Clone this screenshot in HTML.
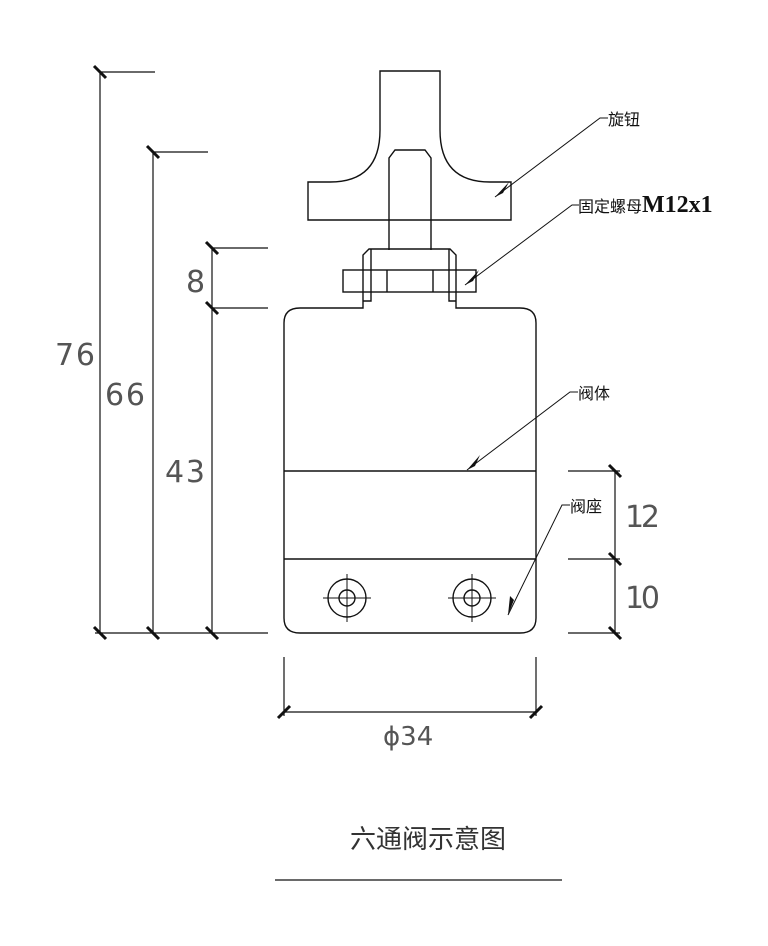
<!DOCTYPE html>
<html><head><meta charset="utf-8"><style>
html,body{margin:0;padding:0;background:#fff;}
svg{display:block;}
.t{font-family:"DejaVu Sans","Liberation Sans",sans-serif;fill:#555;font-weight:normal;}
.c{font-family:"Liberation Sans","Noto Sans CJK SC",sans-serif;fill:#111;}
</style></head><body>
<svg width="768" height="946" viewBox="0 0 768 946" xmlns="http://www.w3.org/2000/svg">
<g fill="none" stroke="#111" stroke-width="1.4">
<path d="M380 71 L440 71 L440 130 Q440 182 490 182 L511 182 L511 220 L308 220 L308 182 L330 182 Q380 182 380 130 Z"/>
<path d="M389 250 L389 158 L395 150 L425 150 L431 158 L431 250"/>
<path d="M284 323 Q284 308 300 308 L363 308 L363 255 L369 249 L450 249 L456 255 L456 308 L520 308 Q536 308 536 323 L536 618 Q536 633 520 633 L300 633 Q284 633 284 618 Z"/>
<path d="M371 249 L371 301 L363 301 M449 249 L449 301 L456 301"/>
<rect x="343" y="270" width="133" height="22"/>
<path d="M387 270 V292 M433 270 V292"/>
<path d="M284 471 H536 M284 559 H536"/>
<circle cx="347" cy="598" r="19"/><circle cx="347" cy="598" r="8"/>
<circle cx="472" cy="598" r="19"/><circle cx="472" cy="598" r="8"/>
<path d="M323 598 H371 M347 574 V622 M448 598 H496 M472 574 V622" stroke-width="1"/>
<path d="M100 72 V633 M100 72 H155 M153 152 V633 M153 152 H208 M212 248 V633 M212 248 H268 M212 308 H268 M95 633 H268" stroke-width="1.2"/>
<path d="M615 471 V633 M568 471 H620 M568 559 H620 M568 633 H620" stroke-width="1.2"/>
<path d="M284 657 V716 M536 657 V716 M284 712 H536" stroke-width="1.2"/>
<g stroke-width="3">
<path d="M94 66 L106 78 M147 146 L159 158 M206 242 L218 254 M206 302 L218 314 M94 627 L106 639 M147 627 L159 639 M206 627 L218 639"/>
<path d="M609 465 L621 477 M609 553 L621 565 M609 627 L621 639"/>
<path d="M278 718 L290 706 M530 718 L542 706"/>
</g>
<path d="M275 880 H562" stroke-width="1.2"/>
<path d="M495 197 L600 118 H608 M465 285 L572 205 H579 M467 470 L570 392 H578 M508 615 L562 505 H570" stroke-width="1"/>
</g>
<g fill="#111">
<path d="M495 197 L509 182 L503 193 Z"/>
<path d="M465 285 L479 270 L473 281 Z"/>
<path d="M467 470 L480 455 L475 466 Z"/>
<path d="M508 615 L510 596 L514 600 Z"/>
</g>
<g class="t" font-size="30">
<text x="55" y="365" textLength="40">76</text>
<text x="105" y="405" textLength="40">66</text>
<text x="165" y="482" textLength="40">43</text>
<text x="186" y="292">8</text>
<text x="625" y="527" textLength="35">12</text>
<text x="625" y="608" textLength="35">10</text>
<text x="383" y="745" font-size="26">ϕ34</text>
</g>
<g class="c" font-size="16">
<text x="608" y="125">旋钮</text>
<text x="578" y="212">固定螺母<tspan font-family="Liberation Serif" font-weight="bold" font-size="24">M12x1</tspan></text>
<text x="578" y="399">阀体</text>
<text x="570" y="512">阀座</text>
<text x="350" y="848" font-size="26" fill="#333">六通阀示意图</text>
</g>
</svg>
</body></html>
